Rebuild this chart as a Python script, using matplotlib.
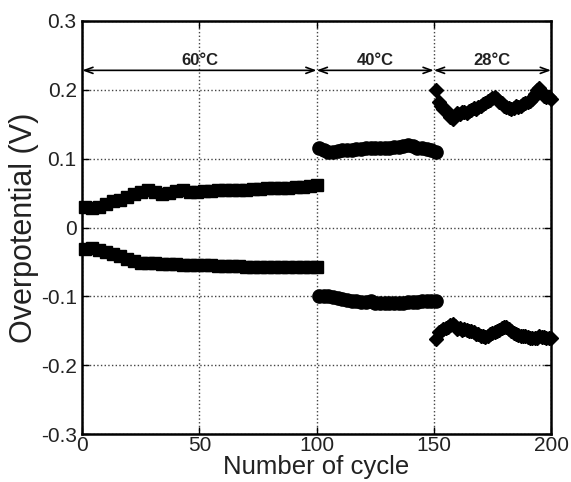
import numpy as np
import matplotlib.pyplot as plt

plt.rcParams['font.family'] = ['Liberation Sans', 'DejaVu Sans']

# 60 C segment
x60 = [1, 4, 7, 10, 13, 16, 19, 22, 25, 28, 31, 34, 37, 40, 43, 46, 49, 52,
       55, 58, 61, 64, 67, 70, 73, 76, 79, 82, 85, 88, 91, 94, 97, 100]
up60 = [0.030, 0.029, 0.030, 0.034, 0.038, 0.040, 0.044, 0.048, 0.052, 0.054,
        0.052, 0.049, 0.050, 0.053, 0.054, 0.052, 0.052, 0.053, 0.053, 0.054,
        0.054, 0.055, 0.055, 0.055, 0.056, 0.056, 0.057, 0.057, 0.058, 0.058,
        0.059, 0.059, 0.060, 0.061]
lo60 = [-0.031, -0.030, -0.033, -0.036, -0.039, -0.041, -0.045, -0.048, -0.051,
        -0.052, -0.052, -0.053, -0.053, -0.053, -0.054, -0.054, -0.055, -0.055,
        -0.055, -0.056, -0.056, -0.056, -0.056, -0.057, -0.057, -0.057, -0.057,
        -0.057, -0.058, -0.058, -0.058, -0.058, -0.058, -0.058]

# 40 C segment
x40 = [101, 103, 105, 107, 109, 111, 113, 115, 117, 119, 121, 123, 125, 127,
       129, 131, 133, 135, 137, 139, 141, 143, 145, 147, 149, 151]
up40 = [0.115, 0.112, 0.110, 0.110, 0.111, 0.112, 0.113, 0.113, 0.114, 0.114,
        0.115, 0.115, 0.116, 0.116, 0.115, 0.116, 0.117, 0.117, 0.118, 0.119,
        0.118, 0.116, 0.115, 0.114, 0.112, 0.110]
lo40 = [-0.100, -0.100, -0.100, -0.101, -0.102, -0.104, -0.105, -0.106, -0.107,
        -0.108, -0.108, -0.107, -0.109, -0.109, -0.110, -0.110, -0.110, -0.109,
        -0.109, -0.108, -0.108, -0.108, -0.107, -0.107, -0.107, -0.107]

# 28 C segment, one point per cycle
x28 = list(range(151, 201))
up28 = [0.200, 0.182, 0.176, 0.172, 0.170, 0.166, 0.160, 0.158, 0.162, 0.166,
        0.165, 0.167, 0.168, 0.166, 0.169, 0.171, 0.173, 0.172, 0.175, 0.177,
        0.179, 0.181, 0.183, 0.185, 0.188, 0.190, 0.186, 0.182, 0.180, 0.177,
        0.175, 0.173, 0.172, 0.174, 0.176, 0.175, 0.177, 0.179, 0.180, 0.182,
        0.184, 0.186, 0.193, 0.200, 0.203, 0.196, 0.191, 0.190, 0.189, 0.187]
lo28 = [-0.162, -0.152, -0.150, -0.147, -0.146, -0.144, -0.142, -0.140, -0.143,
        -0.147, -0.146, -0.148, -0.147, -0.148, -0.150, -0.150, -0.152, -0.154,
        -0.155, -0.157, -0.158, -0.159, -0.157, -0.155, -0.153, -0.152, -0.150,
        -0.148, -0.146, -0.145, -0.145, -0.147, -0.150, -0.153, -0.155, -0.156,
        -0.157, -0.158, -0.158, -0.159, -0.160, -0.160, -0.161, -0.160, -0.158,
        -0.159, -0.159, -0.160, -0.161, -0.160]

segments = [(0, 100, '60°C'), (100, 150, '40°C'), (150, 200, '28°C')]

fig = plt.figure(figsize=(5.71, 4.82), dpi=100)
ax = fig.add_axes([0.144, 0.099, 0.821, 0.858])

ax.plot(x60, up60, 's', color='black', markersize=8.5, clip_on=False)
ax.plot(x60, lo60, 's', color='black', markersize=8.5, clip_on=False)
ax.plot(x40, up40, 'o', color='black', markersize=9.5, clip_on=False)
ax.plot(x40, lo40, 'o', color='black', markersize=9.5, clip_on=False)
ax.plot(x28, up28, 'D', color='black', markersize=7.5, clip_on=False)
ax.plot(x28, lo28, 'D', color='black', markersize=7.5, clip_on=False)

for a, b, lab in segments:
    ax.annotate('', xy=(b, 0.228), xytext=(a, 0.228),
                arrowprops=dict(arrowstyle='<->,head_length=0.6,head_width=0.22',
                                color='black', lw=1.2, shrinkA=0, shrinkB=0))
    ax.text((a + b) / 2, 0.231, lab, ha='center', va='bottom', fontsize=12,
            fontweight='bold', color='#222222')

ax.set_xlim(0, 200)
ax.set_ylim(-0.3, 0.3)
ax.set_xticks([0, 50, 100, 150, 200])
ax.set_yticks([-0.3, -0.2, -0.1, 0, 0.1, 0.2, 0.3])
ax.set_yticklabels(['-0.3', '-0.2', '-0.1', '0', '0.1', '0.2', '0.3'])
ax.grid(True, color='#444444', linestyle=':', linewidth=1)
ax.tick_params(direction='in', length=5, width=1, labelsize=15, pad=1,
               right=True, top=True, labelcolor='#222222')
ax.tick_params(axis='y', pad=4)
for s in ax.spines.values():
    s.set_linewidth(1.8)

ax.set_xlabel('Number of cycle', fontsize=18.5, labelpad=0, color='#222222')
ax.set_ylabel('Overpotential (V)', fontsize=22, labelpad=1, color='#222222')

fig.savefig('out.png', dpi=100)
